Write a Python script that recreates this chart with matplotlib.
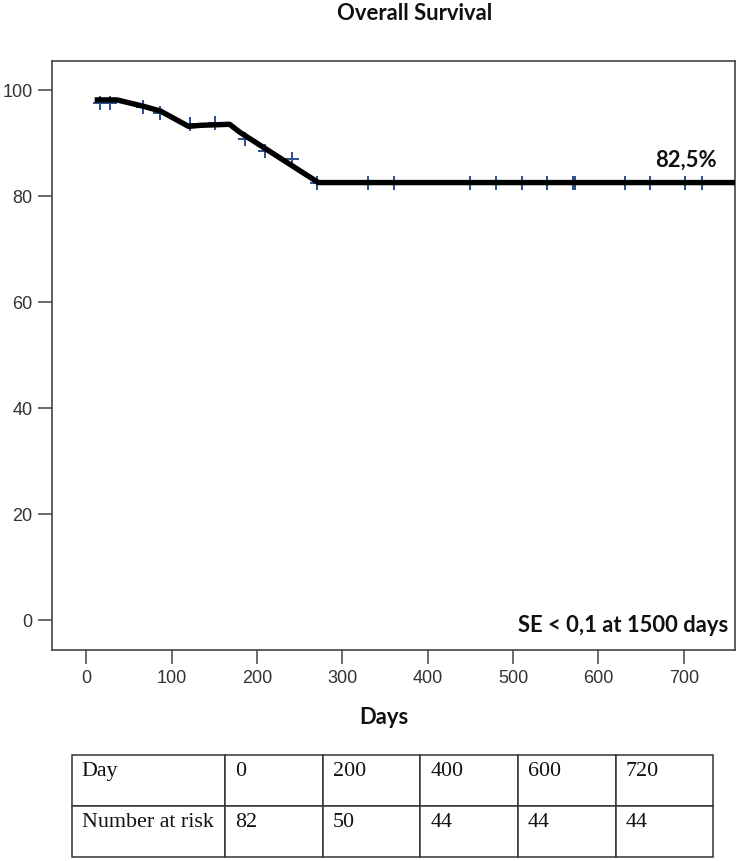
import matplotlib
matplotlib.use("Agg")
import matplotlib.pyplot as plt

# ---------------- data ----------------
curve_days = [10, 36, 67, 87, 120, 133, 168, 180, 272, 760]
curve_surv = [98.1, 98.1, 96.9, 96.0, 93.1, 93.3, 93.5, 92.0, 82.5, 82.5]

censor_days = [16, 28, 67, 87, 122, 151, 186, 210, 241, 270, 330, 360,
               450, 480, 510, 540, 570, 573, 631, 660, 701, 721]
censor_surv = [97.6, 97.6, 96.7, 95.7, 93.5, 93.8, 90.7, 88.5, 86.9, 82.5,
               82.5, 82.5, 82.5, 82.5, 82.5, 82.5, 82.5, 82.5, 82.5, 82.5,
               82.5, 82.5]

x_ticks = [0, 100, 200, 300, 400, 500, 600, 700]
y_ticks = [0, 20, 40, 60, 80, 100]

table_rows = ["Day", "Number at risk"]
table_days = ["0", "200", "400", "600", "720"]
table_at_risk = ["82", "50", "44", "44", "44"]

title = "Overall Survival"
x_label = "Days"
final_label = "82,5%"
se_note = "SE < 0,1 at 1500 days"

# ---------------- figure ----------------
W, H = 742, 862
fig = plt.figure(figsize=(W / 100, H / 100), dpi=100)
fig.patch.set_facecolor("white")

def frac_box(x0, y0, x1, y1):
    return [x0 / W, 1 - y1 / H, (x1 - x0) / W, (y1 - y0) / H]

ax = fig.add_axes(frac_box(52, 61.7, 735, 650.7))
ax.set_xlim(-40, 760)
ax.set_ylim(-5.66, 105.5)

bold_font = dict(family=["Lato", "DejaVu Sans"], fontweight="bold")
BIG = 15.8

ax.plot(censor_days, censor_surv, linestyle="none", marker="+",
        markersize=9.5, markeredgewidth=1.4, color="#2b4f8c", zorder=2)
ax.plot(curve_days, curve_surv, color="black", linewidth=3.9,
        solid_joinstyle="round", solid_capstyle="butt", zorder=3)

ax.set_xticks(x_ticks)
ax.set_yticks(y_ticks)
ax.tick_params(axis="both", direction="out", length=10, width=1.1,
               color="#444444", labelsize=13, labelcolor="#333333", pad=4)
for lab in ax.get_xticklabels() + ax.get_yticklabels():
    lab.set_family(["Liberation Sans", "DejaVu Sans"])
for sp in ax.spines.values():
    sp.set_color("#444444")
    sp.set_linewidth(1.2)

ax.text(0.9736, 0.833, final_label, transform=ax.transAxes, ha="right",
        va="center", fontsize=BIG, color="#111111", **bold_font)
ax.text(0.9898, 0.0436, se_note, transform=ax.transAxes, ha="right",
        va="center", fontsize=BIG, color="#111111", **bold_font)

fig.text(415 / W, 1 - 13.5 / H, title, ha="center", va="center",
         fontsize=BIG, color="#111111", **bold_font)
fig.text(383.7 / W, 1 - 717 / H, x_label, ha="center", va="center",
         fontsize=BIG, color="#111111", **bold_font)

# ---------------- number-at-risk table ----------------
tax = fig.add_axes(frac_box(71.7, 755.7, 713.3, 857.7))
tax.axis("off")
col_w = [153.3] + [97.66] * len(table_days)
tot = sum(col_w)
cell_text = [[table_rows[0]] + table_days, [table_rows[1]] + table_at_risk]
tbl = tax.table(cellText=cell_text, colWidths=[c / tot for c in col_w],
                cellLoc="left", bbox=[0, 0, 1, 1])
tbl.auto_set_font_size(False)
for (r, c), cell in tbl.get_celld().items():
    cell.set_edgecolor("#333333")
    cell.set_linewidth(1.1)
    cell.PAD = 10.0 / col_w[c]
    t = cell.get_text()
    t.set_fontsize(15.8)
    t.set_family(["Liberation Serif", "DejaVu Serif"])
    t.set_verticalalignment("bottom")
    t.set_color("#111111")

fig.savefig("out.png", dpi=100, facecolor="white")
